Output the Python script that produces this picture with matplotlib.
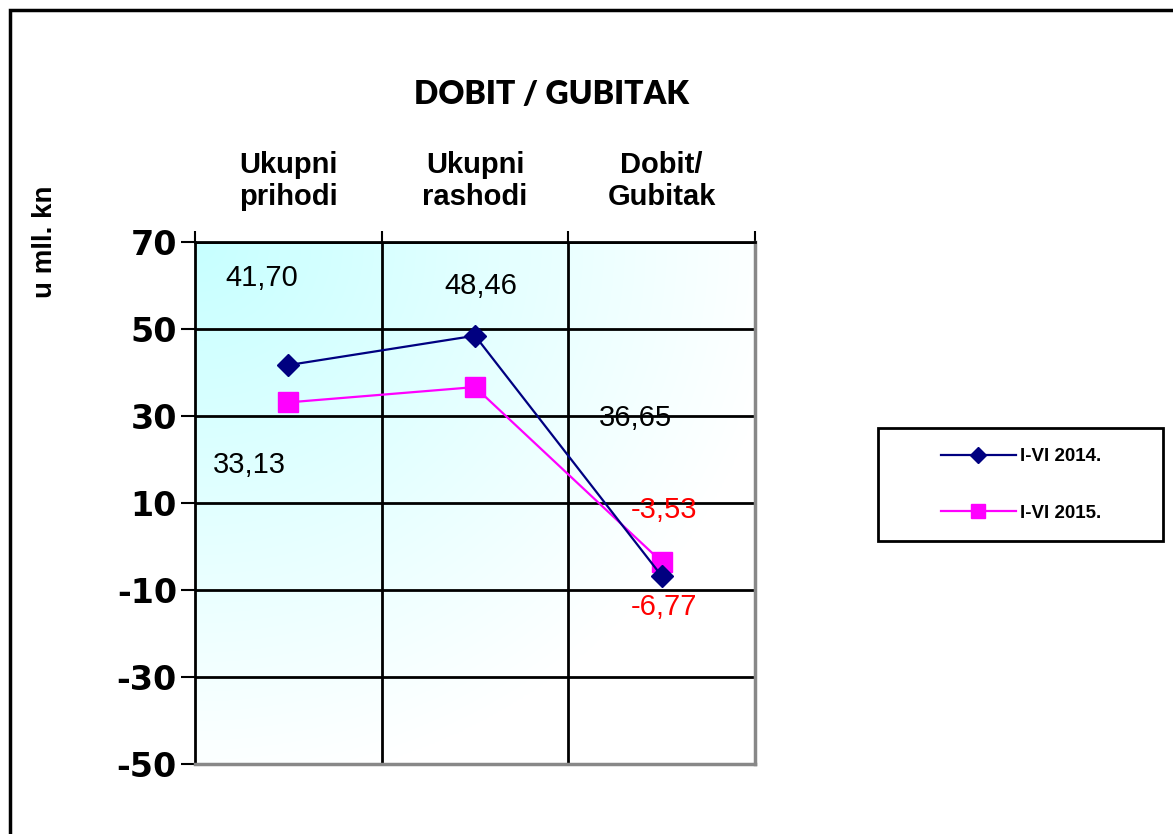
import numpy as np
import matplotlib
matplotlib.use("Agg")
import matplotlib.pyplot as plt
from matplotlib.patches import Rectangle
from matplotlib.lines import Line2D

# ── Data ──────────────────────────────────────────────────────────────────────
categories = ["Ukupni\nprihodi", "Ukupni\nrashodi", "Dobit/\nGubitak"]
series_names = ["I-VI 2014.", "I-VI 2015."]
vals_2014 = [41.70, 48.46, -6.77]
vals_2015 = [33.13, 36.65, -3.53]
y_ticks = [70, 50, 30, 10, -10, -30, -50]

# where the data labels sit (data coords), as in the original sheet
label_pos_2014 = [(0.36, 61.7), (1.53, 59.9), (2.51, -13.9)]
label_pos_2015 = [(0.29, 18.7), (2.36, 29.5), (2.51, 8.4)]

fig = plt.figure(figsize=(11.73, 8.34), dpi=100)
ax = fig.add_axes([195 / 1173, 1 - 764 / 834, 560 / 1173, 522 / 834])

x = np.arange(len(categories)) + 0.5

# ── Gradient background (cyan top-left -> white) ─────────────────────────────
gx, gy = np.meshgrid(np.linspace(0, 1, 300), np.linspace(0, 1, 300))
t = np.clip(1 - np.sqrt(gx ** 2 + gy ** 2) / 1.05, 0, 1)
c0 = np.array([1.0, 1.0, 1.0])
c1 = np.array([0.78, 1.0, 1.0])
img = c0[None, None, :] * (1 - t[..., None]) + c1[None, None, :] * t[..., None]
ax.imshow(img, extent=[0, 3, -50, 70], aspect="auto", origin="upper", zorder=0)

# ── Grid ─────────────────────────────────────────────────────────────────────
for yv in y_ticks:
    ax.axhline(yv, color="black", lw=2, zorder=1)
for xv in [1, 2]:
    ax.axvline(xv, color="black", lw=2, zorder=1)

# ── Lines ─────────────────────────────────────────────────────────────────────
ax.plot(x, vals_2014, color="#000080", lw=1.6, marker="D", markersize=11,
        zorder=4, label=series_names[0])
ax.plot(x, vals_2015, color="#ff00ff", lw=1.6, marker="s", markersize=15,
        zorder=3, label=series_names[1])

# ── Data labels ──────────────────────────────────────────────────────────────
def fmt(v):
    return f"{v:.2f}".replace(".", ",")

for vals, pos in [(vals_2014, label_pos_2014), (vals_2015, label_pos_2015)]:
    for v, (px, py) in zip(vals, pos):
        ax.text(px, py, fmt(v), ha="center", va="center", fontsize=21,
                family="Liberation Sans", color="red" if v < 0 else "black",
                zorder=5)

# ── Axes ─────────────────────────────────────────────────────────────────────
ax.set_xlim(0, 3)
ax.set_ylim(-50, 70)
ax.set_yticks(y_ticks)
ax.set_yticklabels([str(v) for v in y_ticks], fontsize=24, fontweight="bold",
                   family="DejaVu Sans")
ax.tick_params(axis="y", length=10, width=1.5, direction="out", pad=3)

ax.xaxis.tick_top()
ax.set_xticks(x)
ax.set_xticklabels(categories, fontsize=21, fontweight="bold",
                   family="Liberation Sans", linespacing=1.2)
ax.set_xticks([0, 1, 2, 3], minor=True)
ax.tick_params(axis="x", which="major", length=0, pad=22)
ax.tick_params(axis="x", which="minor", length=8, width=1.5, direction="out",
               top=True, bottom=False)

ax.spines["left"].set_color("black")
ax.spines["left"].set_linewidth(2)
ax.spines["top"].set_color("black")
ax.spines["top"].set_linewidth(2)
ax.spines["right"].set_color("#888888")
ax.spines["right"].set_linewidth(2.5)
ax.spines["bottom"].set_color("#888888")
ax.spines["bottom"].set_linewidth(2.5)

fig.text(45 / 1173, 1 - 242 / 834, "u mll. kn", rotation=90, ha="center",
         va="center", fontsize=20, fontweight="bold", family="Liberation Sans")

fig.text(552 / 1173, 1 - 95 / 834, "DOBIT / GUBITAK", ha="center", va="center",
         fontsize=23, fontweight="heavy", family="Lato")

# ── Legend ───────────────────────────────────────────────────────────────────
handles = [
    Line2D([], [], color="#000080", lw=1.6, marker="D", markersize=8),
    Line2D([], [], color="#ff00ff", lw=1.6, marker="s", markersize=10),
]
leg = fig.legend(handles, series_names, loc="center",
                 bbox_to_anchor=(1021 / 1173, 1 - 485 / 834),
                 prop={"family": "Liberation Sans", "weight": "bold", "size": 13.5},
                 frameon=False, handlelength=4.0, labelspacing=2.1,
                 handletextpad=0.25, borderaxespad=0)
fig.patches.append(Rectangle((878 / 1173, 1 - 541 / 834), 285 / 1173, 113 / 834,
                             transform=fig.transFigure, fill=False,
                             edgecolor="black", lw=2))

# outer chart frame
fig.patches.append(Rectangle((10 / 1173, -0.05), 1.1, 1 - 10 / 834 + 0.05,
                             transform=fig.transFigure, fill=False,
                             edgecolor="black", lw=2.5))

fig.savefig("out.png", dpi=100)
